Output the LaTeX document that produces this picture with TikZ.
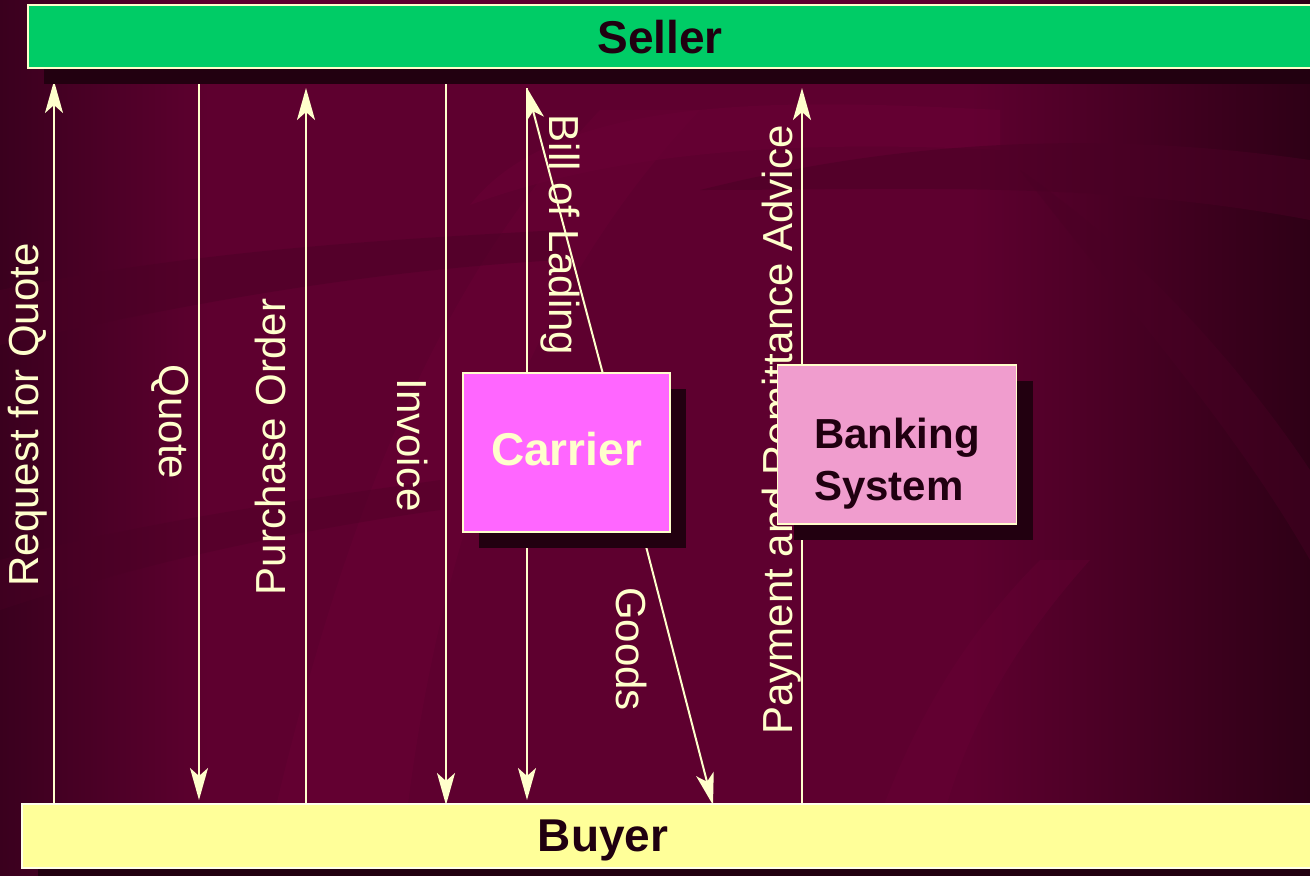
\documentclass[tikz,border=0pt]{standalone}
\usepackage{fontspec}
\setmainfont{Liberation Sans}
\usetikzlibrary{arrows.meta,shadows,positioning}

\definecolor{bgmid}{HTML}{5E002F}
\definecolor{bgleft}{HTML}{3A001E}
\definecolor{bgright}{HTML}{2E0016}
\definecolor{bglight}{HTML}{6A0035}
\definecolor{bgdark}{HTML}{4A0025}
\definecolor{wire}{HTML}{FFFFCC}
\definecolor{ink}{HTML}{200010}
\definecolor{shade}{HTML}{220010}
\definecolor{sellerc}{HTML}{00CC66}
\definecolor{buyerc}{HTML}{FFFF99}
\definecolor{carrierc}{HTML}{FF66FF}
\definecolor{bankc}{HTML}{F09DCE}

\pgfdeclarehorizontalshading{backdrop}{100bp}{color(0bp)=(bgleft); color(25bp)=(bgleft); color(33bp)=(bgmid); color(62bp)=(bgmid); color(75bp)=(bgright); color(100bp)=(bgright)}

\pgfdeclarelayer{back}
\pgfdeclarelayer{wires}
\pgfsetlayers{back,wires,main}

\tikzstyle{party}=[rectangle,draw=wire,line width=1.5pt,text=ink,font=\fontsize{46}{52}\selectfont\bfseries,text depth=0pt,
  drop shadow={shadow xshift=16pt,shadow yshift=-16pt,fill=shade,opacity=1}]
\tikzstyle{agent}=[party,minimum height=159pt]
\tikzstyle{flow}=[draw=wire,line width=2pt]
\tikzstyle{lbl}=[text=wire,font=\fontsize{42}{48}\selectfont,inner sep=0pt]

\begin{document}
\begin{tikzpicture}[x=1pt,y=-1pt,>={Stealth[length=32pt,width=18pt,inset=8pt]}]
  \useasboundingbox (0,0) rectangle (1310,876);
  % the two trading parties
  \node[party,fill=sellerc,minimum width=1312pt,minimum height=63pt] (seller) at (684,36.5) {\hspace{-48pt}Seller};
  \node[party,fill=buyerc,minimum width=1318pt,minimum height=64pt,draw=wire!40!white] (buyer) at (681,836) {\hspace{-156pt}Buyer};
  % go-betweens
  \node[agent,fill=carrierc,text=wire,minimum width=207pt,text depth=8pt] (carrier) at (566.5,452.5) {Carrier};
  \node[agent,fill=bankc,minimum width=239pt,align=left,font=\fontsize{42}{52}\selectfont\bfseries] (bank) at (897,444.5) {\rule{0pt}{59pt}Banking\\System};

  \coordinate (rfq) at (54,81);
  \coordinate (quote) at (199,800);
  \coordinate (po) at (306,88);
  \coordinate (inv) at (446,805);
  \coordinate (bolT) at (527,88);
  \coordinate (bolB) at (527,800);
  \coordinate (goods) at (713,805);
  \coordinate (pay) at (802,88);

  \begin{pgfonlayer}{wires}
    \draw[flow,->] (rfq |- buyer.north) -- (rfq);
    \draw[flow,->] (quote |- seller.south) -- (quote);
    \draw[flow,->] (po |- buyer.north) -- (po);
    \draw[flow,->] (inv |- seller.south) -- (inv);
    \draw[flow,->] (bolT) -- (bolB);
    \draw[flow,->] ([xshift=36pt]carrier.north) -- (bolT);
    \draw[flow,->] ([xshift=76pt]carrier.south) -- (goods);
    \draw[flow,->] (pay |- buyer.north) -- (pay);
    \node[lbl,rotate=90] (rfqtxt) at (28,415) {Request for Quote};
    \node[lbl,rotate=-90] (quotetxt) at (170,422) {Quote};
    \node[lbl,rotate=90] (potxt) at (270,447) {Purchase Order};
    \node[lbl,rotate=-90] (invtxt) at (413,445) {Invoice};
    \node[lbl,rotate=-90] (boltxt) at (560,235) {Bill of Lading};
    \node[lbl,rotate=-90] (goodstxt) at (632,649) {Goods};
    \node[lbl,rotate=90] (paytxt) at (782,430) {Payment and Remittance Advice};
  \end{pgfonlayer}

  \begin{pgfonlayer}{back}
    \shade[shading=backdrop] (0,0) rectangle (1310,876);
    % faint swirls
    \fill[bglight,opacity=.5] (470,205) .. controls (560,90) and (800,100) .. (1000,110) -- (1000,150) .. controls (800,140) and (620,150) .. (470,205) -- cycle;
    \fill[bglight,opacity=.45] (260,876) .. controls (330,560) and (420,300) .. (600,110) -- (700,110) .. controls (520,300) and (430,560) .. (400,876) -- cycle;
    \fill[bgdark,opacity=.45] (0,290) .. controls (200,250) and (380,240) .. (560,230) -- (560,260) .. controls (380,270) and (200,300) .. (0,345) -- cycle;
    \fill[bgdark,opacity=.5] (700,190) .. controls (900,140) and (1100,130) .. (1310,160) -- (1310,220) .. controls (1100,180) and (900,190) .. (700,190) -- cycle;
    \fill[bgdark,opacity=.4] (1020,170) .. controls (1150,260) and (1250,380) .. (1310,470) -- (1310,560) .. controls (1230,420) and (1120,300) .. (1020,170) -- cycle;
    \fill[bglight,opacity=.35] (860,876) .. controls (900,740) and (960,640) .. (1040,560) -- (1090,560) .. controls (1000,660) and (950,760) .. (930,876) -- cycle;
    \fill[bgdark,opacity=.35] (0,560) .. controls (150,520) and (300,500) .. (440,480) -- (440,510) .. controls (300,530) and (150,560) .. (0,610) -- cycle;
  \end{pgfonlayer}
\end{tikzpicture}
\end{document}
